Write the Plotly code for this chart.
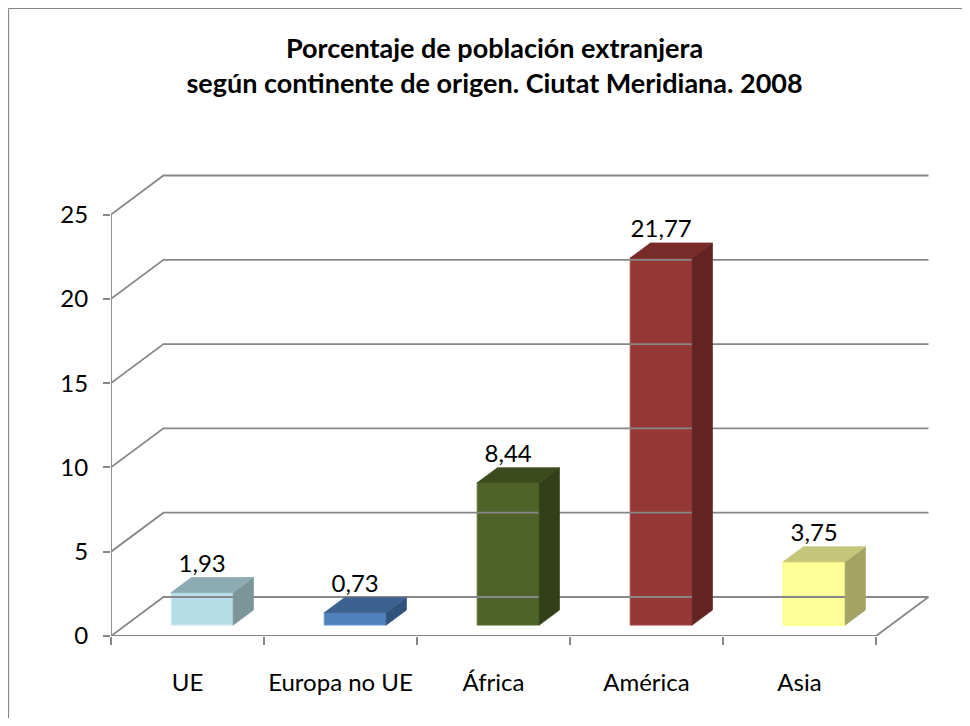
import plotly.graph_objects as go

# ---------------- data ----------------
categories = ["UE", "Europa no UE", "África", "América", "Asia"]
values = [1.93, 0.73, 8.44, 21.77, 3.75]
value_labels = ["1,93", "0,73", "8,44", "21,77", "3,75"]
y_ticks = [0, 5, 10, 15, 20, 25]
front_colors = ["#B7DEE8", "#4F81BD", "#4F6228", "#953735", "#FFFF99"]
top_colors = ["#8DABB2", "#3C6291", "#3C4B1E", "#772C2A", "#C6C67A"]
side_colors = ["#7B9599", "#30527B", "#323F19", "#622423", "#A3A365"]
edge_colors = ["#CFEAF1", "#6D99CF", "#5E7436", "#A84A48", "#FFFF66"]
title_text = "Porcentaje de población extranjera<br>según continente de origen. Ciutat Meridiana. 2008"

# ---------------- 3D projection settings ----------------
DX = 0.343      # depth offset in category units
DY = 2.313      # depth offset in value units
D0, D1 = 0.28, 0.665   # bar front / back depth fraction
BAR_W = 0.405
Y_MAX = 25
N = len(categories)

FONT = "Lato"
GRID = "#878787"

W, H = 954, 710
L, R, T, B = 103, 31, 166, 82
plot_w = W - L - R
plot_h = H - T - B

fig = go.Figure()

# gridlines: side wall diagonals + back wall horizontals
gx, gy = [], []
for v in y_ticks:
    gx += [0, DX, N + DX, None]
    gy += [v, v + DY, v + DY, None]
# floor front edge, floor right edge, front vertical axis
gx += [0, N, N + DX, None, 0, 0, None]
gy += [0, 0, DY, None, 0, Y_MAX, None]
fig.add_trace(go.Scatter(x=gx, y=gy, mode="lines",
                         line=dict(color=GRID, width=1.8),
                         hoverinfo="skip", showlegend=False))

# bars
for i, (v, fc, tc, sc, ec) in enumerate(zip(values, front_colors, top_colors, side_colors, edge_colors)):
    cx = i + 0.5 + D0 * DX
    xl, xr = cx - BAR_W / 2, cx + BAR_W / 2
    yb, yt = D0 * DY, v + D0 * DY
    ddx, ddy = (D1 - D0) * DX, (D1 - D0) * DY
    # side face
    fig.add_trace(go.Scatter(
        x=[xr, xr, xr + ddx, xr + ddx, xr], y=[yb, yt, yt + ddy, yb + ddy, yb],
        mode="lines", fill="toself", fillcolor=sc, line=dict(color=sc, width=0.8),
        hoverinfo="skip", showlegend=False))
    # top face
    fig.add_trace(go.Scatter(
        x=[xl, xr, xr + ddx, xl + ddx, xl], y=[yt, yt, yt + ddy, yt + ddy, yt],
        mode="lines", fill="toself", fillcolor=tc, line=dict(color=tc, width=0.8),
        hoverinfo="skip", showlegend=False))

# front faces as bars
fig.add_trace(go.Bar(
    x=[i + 0.5 + D0 * DX for i in range(N)],
    y=values,
    base=[D0 * DY] * N,
    width=BAR_W,
    marker=dict(color=front_colors, line=dict(color=edge_colors, width=1)),
    hoverinfo="skip", showlegend=False))

# value labels
fig.add_trace(go.Scatter(
    x=[i + 0.5 + D0 * DX for i in range(N)],
    y=[v + D1 * DY for v in values],
    mode="text", text=value_labels, textposition="top center",
    textfont=dict(family=FONT, size=24, color="#000000"),
    hoverinfo="skip", showlegend=False, cliponaxis=False))

# border (left + top of chart area)
def px_to_paper_x(px):
    return (px - L) / plot_w

def px_to_paper_y(py):
    return 1 - (py - T) / plot_h

fig.add_shape(type="line", xref="paper", yref="paper",
              x0=px_to_paper_x(0.5), x1=px_to_paper_x(W + 5),
              y0=px_to_paper_y(0.5), y1=px_to_paper_y(0.5),
              line=dict(color="#868686", width=1.2))
fig.add_shape(type="line", xref="paper", yref="paper",
              x0=px_to_paper_x(0.5), x1=px_to_paper_x(0.5),
              y0=px_to_paper_y(0.5), y1=px_to_paper_y(H + 5),
              line=dict(color="#868686", width=1.2))

fig.update_layout(
    width=W, height=H,
    margin=dict(l=L, r=R, t=T, b=B),
    paper_bgcolor="white", plot_bgcolor="white",
    barmode="overlay",
    title=dict(text=title_text, x=0.51, xanchor="center", y=1 - 50 / H, yanchor="top",
               font=dict(family=FONT, size=27, color="#000000", weight="bold")),
    xaxis=dict(range=[0, plot_w / 153.0], showgrid=False, zeroline=False, showline=False,
               tickmode="array", tickvals=[i + 0.5 for i in range(N)], ticktext=categories,
               ticks="", ticklabelstandoff=30,
               tickfont=dict(family=FONT, size=24, color="#000000"),
               minor=dict(tickmode="array", tickvals=list(range(N + 1)), ticks="outside",
                          ticklen=8, tickcolor=GRID, tickwidth=1.8, showgrid=False)),
    yaxis=dict(range=[0, plot_h / 16.86], showgrid=False, zeroline=False, showline=False,
               tickmode="array", tickvals=y_ticks, ticktext=[str(t) for t in y_ticks],
               ticks="outside", ticklen=7, tickcolor=GRID, tickwidth=1.8,
               ticklabelstandoff=10,
               tickfont=dict(family=FONT, size=24, color="#000000")),
)

fig.write_html("out.html")
